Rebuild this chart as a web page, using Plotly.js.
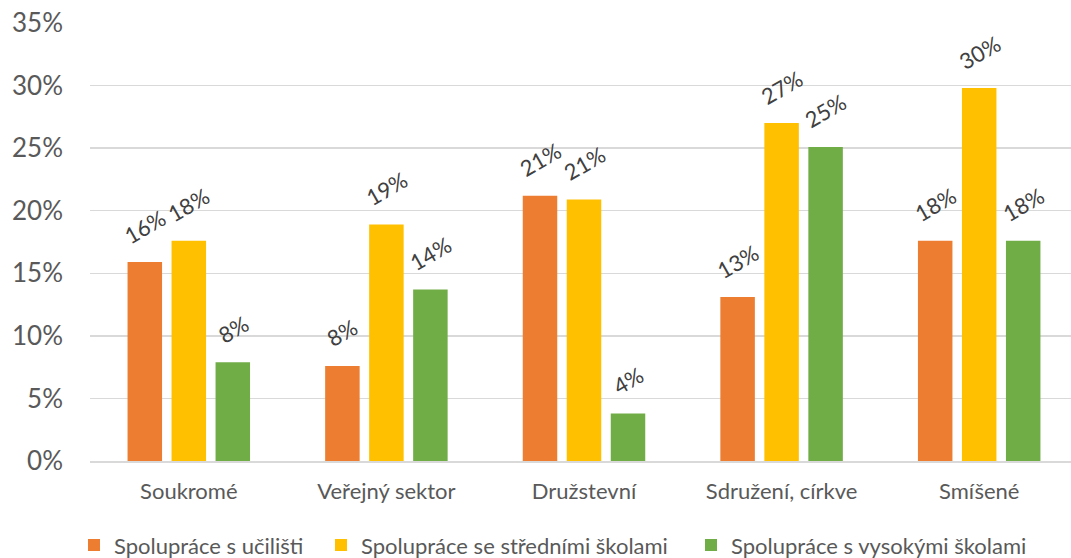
<!DOCTYPE html>
<html>
<head>
<meta charset="utf-8">
<script src="https://cdn.plot.ly/plotly-3.0.1.min.js"></script>
<style>html,body{margin:0;padding:0;background:#fff}#chart{width:1071px;height:558px}</style>
</head>
<body>
<div id="chart"></div>
<script>
const categories = ["Soukromé", "Veřejný sektor", "Družstevní", "Sdružení, církve", "Smíšené"];
const seriesNames = ["Spolupráce s učilišti", "Spolupráce se středními školami", "Spolupráce s vysokými školami"];
const uciliste = [0.159, 0.076, 0.212, 0.131, 0.176];
const stredni = [0.176, 0.189, 0.209, 0.270, 0.298];
const vysoke = [0.079, 0.137, 0.038, 0.251, 0.176];
const colors = ["#ED7D31", "#FFC000", "#70AD47"];
const yTickVals = [0, 0.05, 0.10, 0.15, 0.20, 0.25, 0.30, 0.35];

const FONT = "Lato, 'Open Sans', sans-serif";
const W = 1071, H = 558;
const M = {l: 90, r: 0, t: 23, b: 97};
const BARGAP = 0.332, BARGROUPGAP = 0.216;
// plot area in the original is slightly cropped on the right
const X_RANGE = [-0.5, 4.4646];
const values = [uciliste, stredni, vysoke];
const legendIds = ["legend", "legend2", "legend3"];

const traces = values.map((v, i) => ({
  type: "bar",
  name: seriesNames[i],
  legend: legendIds[i],
  x: categories,
  y: v,
  marker: {color: colors[i]},
  hoverinfo: "skip"
}));

// data labels positioned through the axes (category + value), offset per series slot
const plotW = W - M.l - M.r;
const pxPerCat = plotW / (X_RANGE[1] - X_RANGE[0]);
const slot = pxPerCat * (1 - BARGAP) / values.length;
const annotations = [];
values.forEach((v, i) => {
  v.forEach((val, j) => {
    const txt = Math.round(val * 100) + "%";
    annotations.push({
      x: categories[j], y: val, xref: "x", yref: "y",
      text: txt,
      showarrow: false, textangle: -30,
      xanchor: "center", yanchor: "middle",
      xshift: (i - (values.length - 1) / 2) * slot,
      yshift: 27 + 3 * txt.length,
      font: {family: FONT, size: 22, color: "#404040"}
    });
  });
});

const legendBase = {
  orientation: "h", xref: "container", yref: "container",
  xanchor: "left", y: 0.023, yanchor: "middle",
  font: {size: 22, color: "#595959"}, itemwidth: 30, bgcolor: "rgba(0,0,0,0)"
};

const layout = {
  width: W, height: H,
  margin: M,
  paper_bgcolor: "#fff", plot_bgcolor: "#fff",
  barmode: "group",
  bargap: BARGAP,
  bargroupgap: BARGROUPGAP,
  font: {family: FONT, color: "#595959"},
  xaxis: {
    range: X_RANGE,
    showgrid: false, showline: true, linecolor: "#d9d9d9", linewidth: 1.5,
    ticks: "", tickfont: {size: 22, color: "#595959"}, ticklabelstandoff: 10,
    fixedrange: true
  },
  yaxis: {
    range: [0, 0.35], tickvals: yTickVals, tickformat: ".0%",
    showgrid: true, gridcolor: "#d9d9d9", gridwidth: 1.5,
    zeroline: false, showline: false, ticks: "",
    tickfont: {size: 26, color: "#595959"}, ticklabelstandoff: 26,
    fixedrange: true
  },
  showlegend: true,
  legend: Object.assign({}, legendBase, {x: 74 / W}),
  legend2: Object.assign({}, legendBase, {x: 321 / W}),
  legend3: Object.assign({}, legendBase, {x: 691 / W}),
  annotations: annotations
};

Plotly.newPlot("chart", traces, layout, {displayModeBar: false, staticPlot: true});
</script>
</body>
</html>
